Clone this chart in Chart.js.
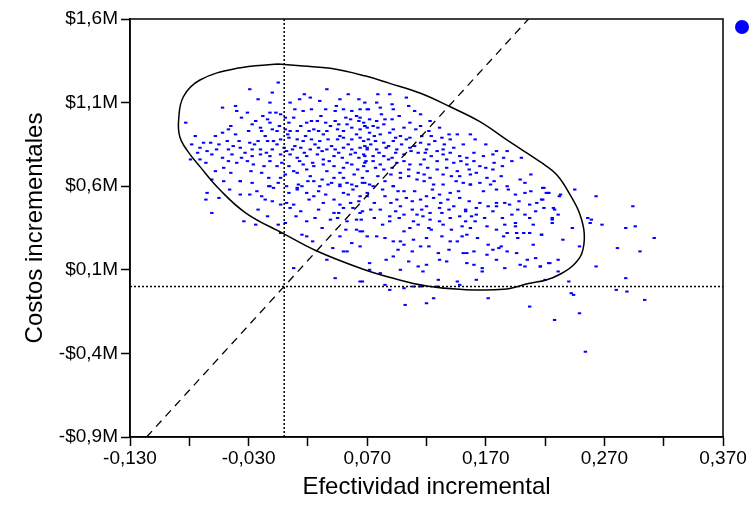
<!DOCTYPE html>
<html>
<head>
<meta charset="utf-8">
<script src="https://cdn.jsdelivr.net/npm/chart.js@4.4.1/dist/chart.umd.min.js"></script>
<style>
  html, body { margin: 0; padding: 0; background: #fff; }
  #wrap { width: 749px; height: 515px; }
</style>
</head>
<body>
<div id="wrap"><canvas id="cePlane" width="749" height="515"></canvas></div>
<script>
// Axis labels (comma decimals, as in the original)
const xTickLabels = ['-0,130', '-0,030', '0,070', '0,170', '0,270', '0,370'];
const yTickLabels = ['-$0,9M', '-$0,4M', '$0,1M', '$0,6M', '$1,1M', '$1,6M'];

// Simulated pairs: [incremental effect, incremental cost in $M]
const simPoints = [
  // upper left
  [-0.005,1.22],[-0.029,1.18],[-0.010,1.16],[0.017,1.15],[0.036,1.18],[-0.041,1.08],[-0.012,1.10],[0.005,1.10],[0.013,1.12],[0.030,1.11],[0.044,1.08],[0.054,1.15],[0.063,1.12],
  [-0.040,1.05],[-0.031,1.04],[-0.012,1.04],[-0.007,1.04],[-0.003,1.03],[0.009,1.06],[0.016,1.05],[0.023,1.06],[0.035,1.06],[0.043,1.05],[0.050,1.06],[0.057,1.05],[0.064,1.06],[0.070,1.06],
  [-0.083,0.98],[-0.024,0.99],[-0.014,1.00],[-0.012,0.98],[0.001,1.01],[0.004,0.98],[0.019,0.98],[0.023,0.99],[0.028,0.99],[0.035,0.98],[0.043,0.99],[0.046,0.97],[0.056,1.00],[0.063,0.99],[0.067,0.98],
  [-0.052,0.92],[-0.047,0.94],[-0.030,0.93],[-0.020,0.95],[-0.019,0.93],[-0.010,0.94],[-0.006,0.93],[0.001,0.94],[0.005,0.93],[0.011,0.93],[0.021,0.93],[0.025,0.94],[0.029,0.93],[0.036,0.93],[0.045,0.94],[0.050,0.93],[0.057,0.95],[0.064,0.94],[0.070,0.95],
  [-0.068,0.86],[-0.062,0.86],[-0.071,0.83],[-0.055,0.85],[-0.048,0.87],[-0.038,0.87],[-0.029,0.86],[-0.022,0.87],[-0.014,0.87],[-0.009,0.87],[-0.003,0.88],[0.004,0.89],[0.011,0.88],[0.016,0.87],[0.023,0.88],[0.030,0.87],[0.037,0.88],[0.045,0.88],[0.050,0.89],[0.057,0.88],[0.064,0.89],[0.071,0.88],
  [-0.065,0.81],[-0.057,0.82],[-0.047,0.82],[-0.037,0.83],[-0.027,0.82],[-0.020,0.82],[-0.010,0.82],[0.000,0.83],[0.007,0.82],[0.014,0.83],[0.022,0.82],[0.029,0.83],[0.036,0.82],[0.043,0.82],[0.050,0.83],[0.057,0.82],[0.064,0.83],[0.070,0.82],
  [-0.079,0.76],[-0.071,0.76],[-0.052,0.77],[-0.044,0.79],[-0.036,0.77],[-0.027,0.78],[-0.020,0.79],[-0.012,0.78],[-0.003,0.79],[0.005,0.79],[0.011,0.77],[0.019,0.78],[0.028,0.79],[0.033,0.76],[0.042,0.78],[0.049,0.77],[0.056,0.79],[0.063,0.77],[0.068,0.78],
  [-0.051,0.71],[-0.040,0.74],[-0.026,0.73],[-0.017,0.72],[-0.012,0.75],[-0.006,0.72],[0.004,0.72],[0.016,0.73],[0.025,0.72],[0.033,0.73],[0.042,0.72],[0.050,0.71],[0.057,0.73],[0.067,0.72],
  [-0.061,0.64],[-0.037,0.63],[-0.013,0.65],[-0.003,0.65],[0.001,0.67],[0.011,0.68],[0.022,0.66],[0.032,0.64],[0.042,0.65],[0.050,0.65],[0.059,0.67],[0.066,0.65],
  [-0.012,0.60],[0.002,0.60],[0.011,0.59],[0.030,0.60],[0.047,0.60],[0.061,0.60],
  [-0.036,1.01],[-0.018,1.02],[0.008,1.01],[0.031,1.02],[0.052,1.01],[0.061,1.02],
  [-0.045,0.96],[-0.027,0.97],[-0.004,0.96],[0.014,0.96],[0.039,0.96],[0.053,0.97],[0.068,0.96],
  [-0.075,0.90],[-0.058,0.90],[-0.041,0.91],[-0.016,0.90],[0.003,0.91],[0.018,0.90],[0.033,0.91],[0.047,0.90],[0.061,0.91],
  [-0.078,0.85],[-0.043,0.84],[-0.025,0.85],[-0.006,0.85],[0.009,0.84],[0.026,0.85],[0.040,0.84],[0.054,0.85],[0.068,0.84],
  [-0.073,0.80],[-0.061,0.79],[-0.033,0.80],[-0.015,0.80],[0.002,0.81],[0.017,0.80],[0.032,0.81],[0.046,0.80],[0.060,0.80],
  [-0.066,0.74],[-0.047,0.75],[-0.031,0.75],[-0.002,0.74],[0.013,0.75],[0.024,0.74],[0.038,0.75],[0.053,0.74],[0.069,0.75],
  [-0.058,0.69],[-0.045,0.68],[-0.028,0.69],[-0.019,0.68],[0.008,0.69],[0.019,0.70],[0.036,0.69],[0.047,0.68],[0.062,0.70],
  [-0.027,0.62],[-0.005,0.62],[0.020,0.63],[0.037,0.61],[0.053,0.62],
  [-0.022,1.12],[0.022,1.13],[0.047,1.12],[-0.052,1.07],
  // upper right
  [0.079,1.15],[0.089,1.15],[0.068,1.10],[0.078,1.10],[0.091,1.09],[0.103,1.13],[0.071,1.06],[0.081,1.07],[0.092,1.06],[0.105,1.08],[0.115,1.03],
  [0.064,1.01],[0.072,1.00],[0.078,0.99],[0.085,1.00],[0.091,1.00],[0.106,0.98],[0.123,0.99],[0.068,0.96],[0.075,0.96],[0.084,0.97],[0.092,0.94],[0.115,0.96],[0.122,0.93],
  [0.072,0.92],[0.081,0.91],[0.089,0.92],[0.098,0.90],[0.106,0.89],[0.116,0.90],[0.133,0.89],[0.146,0.91],[0.157,0.91],
  [0.067,0.87],[0.077,0.87],[0.084,0.86],[0.092,0.87],[0.103,0.88],[0.115,0.86],[0.127,0.87],[0.140,0.88],[0.161,0.88],
  [0.070,0.83],[0.078,0.82],[0.086,0.83],[0.095,0.82],[0.106,0.83],[0.120,0.82],[0.134,0.82],[0.143,0.83],[0.179,0.81],[0.188,0.81],
  [0.067,0.79],[0.075,0.78],[0.084,0.78],[0.091,0.77],[0.101,0.79],[0.113,0.80],[0.124,0.78],[0.134,0.79],[0.148,0.78],[0.154,0.77],[0.168,0.78],[0.185,0.77],[0.200,0.77],
  [0.068,0.74],[0.081,0.73],[0.095,0.74],[0.106,0.73],[0.115,0.73],[0.129,0.75],[0.143,0.74],[0.154,0.73],[0.165,0.72],
  [0.070,0.69],[0.084,0.70],[0.098,0.68],[0.113,0.68],[0.129,0.70],[0.146,0.69],[0.162,0.68],[0.176,0.70],
  [0.098,0.65],[0.112,0.64],[0.123,0.65],[0.134,0.67],[0.148,0.66],[0.171,0.65],[0.199,0.64],
  [0.072,0.61],[0.092,0.60],[0.126,0.61],[0.134,0.61],[0.157,0.61],[0.188,0.60],
  [0.082,1.03],[0.097,1.02],[0.110,1.05],[0.079,0.95],[0.101,0.95],[0.111,0.94],[0.131,0.95],
  [0.076,0.90],[0.094,0.89],[0.124,0.90],[0.139,0.91],
  [0.073,0.85],[0.088,0.84],[0.099,0.85],[0.110,0.84],[0.122,0.85],[0.135,0.85],[0.151,0.85],[0.170,0.85],
  [0.080,0.80],[0.094,0.80],[0.107,0.81],[0.119,0.80],[0.129,0.81],[0.140,0.80],[0.160,0.80],[0.176,0.79],
  [0.075,0.75],[0.088,0.76],[0.101,0.75],[0.118,0.76],[0.137,0.76],[0.149,0.75],[0.160,0.75],[0.177,0.74],[0.192,0.75],
  [0.077,0.71],[0.091,0.71],[0.105,0.70],[0.121,0.71],[0.137,0.71],[0.156,0.70],[0.170,0.71],[0.184,0.72],
  [0.079,0.66],[0.090,0.67],[0.105,0.66],[0.118,0.67],[0.141,0.66],[0.157,0.67],[0.183,0.66],[0.208,0.67],
  [0.085,0.63],[0.118,0.63],[0.145,0.63],[0.165,0.62],[0.177,0.63],[0.203,0.62],
  // lower left
  [-0.051,0.63],[-0.037,0.63],[-0.013,0.60],[-0.009,0.59],[0.012,0.61],[0.015,0.60],[0.025,0.63],[0.040,0.62],[0.047,0.61],[0.057,0.61],[0.066,0.62],
  [0.011,0.58],[0.019,0.56],[0.025,0.54],[0.035,0.55],[0.042,0.52],[0.050,0.56],[0.054,0.55],[0.064,0.54],[0.070,0.56],
  [-0.065,0.56],[-0.037,0.55],[-0.029,0.55],[-0.019,0.54],[-0.055,0.53],[-0.066,0.52],[-0.016,0.52],[-0.003,0.49],[0.002,0.50],[0.008,0.49],[0.056,0.50],[0.047,0.49],
  [-0.061,0.44],[0.014,0.45],[0.042,0.44],[0.046,0.44],[0.050,0.47],[0.066,0.45],
  [-0.034,0.39],[-0.024,0.37],[-0.005,0.37],[0.001,0.38],[0.019,0.39],[0.026,0.41],[0.039,0.40],[0.053,0.39],[0.061,0.40],
  [-0.003,0.32],[0.015,0.31],[0.019,0.30],[0.047,0.30],[0.061,0.34],[0.066,0.33],
  [0.050,0.21],[0.053,0.21],[0.036,0.16],[0.008,0.11],[0.043,0.05],[0.066,0.03],
  [-0.046,0.58],[-0.023,0.57],[0.004,0.56],[0.029,0.57],[0.058,0.58],[-0.010,0.51],[0.021,0.52],[0.033,0.50],[0.063,0.51],
  [-0.022,0.46],[0.005,0.47],[0.029,0.46],[0.058,0.47],[-0.014,0.42],[0.010,0.42],[0.045,0.41],[0.032,0.35],[0.052,0.34],
  [0.024,0.27],[0.057,0.26],[0.041,0.23],
  // lower right
  [0.068,0.62],[0.075,0.60],[0.092,0.60],[0.101,0.57],[0.110,0.57],[0.120,0.54],[0.131,0.55],[0.140,0.56],[0.151,0.62],[0.157,0.61],[0.174,0.61],[0.179,0.58],[0.195,0.55],[0.203,0.56],[0.219,0.59],[0.223,0.56],[0.233,0.55],
  [0.070,0.54],[0.085,0.54],[0.095,0.52],[0.103,0.53],[0.115,0.52],[0.126,0.53],[0.138,0.52],[0.148,0.53],[0.165,0.50],[0.179,0.50],[0.198,0.51],[0.217,0.52],
  [0.098,0.48],[0.108,0.46],[0.120,0.48],[0.131,0.47],[0.143,0.48],[0.153,0.46],[0.162,0.47],[0.172,0.48],[0.179,0.48],[0.186,0.50],[0.207,0.49],[0.227,0.47],
  [0.064,0.44],[0.081,0.46],[0.089,0.42],[0.101,0.43],[0.112,0.43],[0.123,0.44],[0.133,0.44],[0.148,0.42],[0.153,0.45],[0.162,0.43],[0.169,0.41],[0.192,0.43],[0.203,0.43],[0.212,0.45],[0.226,0.40],
  [0.065,0.40],[0.089,0.39],[0.109,0.39],[0.123,0.40],[0.131,0.39],[0.153,0.39],[0.161,0.39],[0.171,0.36],[0.179,0.34],[0.195,0.38],[0.195,0.36],
  [0.064,0.33],[0.101,0.33],[0.106,0.35],[0.122,0.35],[0.124,0.34],[0.141,0.34],[0.157,0.35],[0.188,0.32],[0.196,0.32],[0.202,0.32],[0.207,0.32],[0.217,0.31],
  [0.070,0.30],[0.078,0.30],[0.109,0.28],[0.140,0.27],[0.150,0.30],[0.154,0.31],[0.185,0.30],
  [0.092,0.27],[0.098,0.27],[0.101,0.25],[0.115,0.24],[0.122,0.24],[0.146,0.27],[0.172,0.25],[0.181,0.23],[0.183,0.24],[0.188,0.21],[0.064,0.24],[0.210,0.25],
  [0.130,0.20],[0.151,0.20],[0.154,0.20],[0.171,0.19],[0.176,0.22],
  [0.072,0.14],[0.086,0.16],[0.092,0.18],[0.105,0.15],[0.113,0.12],[0.120,0.13],[0.131,0.16],[0.137,0.15],[0.154,0.14],[0.160,0.13],[0.167,0.11],[0.179,0.16],[0.186,0.11],[0.199,0.13],[0.205,0.16],[0.203,0.12],[0.212,0.17],[0.216,0.12],[0.224,0.14],[0.231,0.16],
  [0.072,0.10],[0.098,0.10],[0.117,0.09],[0.081,0.08],[0.130,0.04],[0.146,0.03],[0.148,0.01],[0.162,0.04],[0.167,0.09],
  [0.064,0.03],[0.085,0.01],[0.089,-0.02],[0.101,-0.01],[0.109,0.00],[0.115,0.00],[0.129,0.00],[0.172,-0.07],[0.207,-0.12],[0.126,-0.07],[0.120,-0.10],[0.102,-0.11],
  [0.083,0.58],[0.096,0.57],[0.125,0.58],[0.147,0.57],[0.168,0.57],[0.189,0.58],[0.208,0.57],
  [0.076,0.50],[0.090,0.50],[0.108,0.51],[0.132,0.50],[0.156,0.51],[0.190,0.49],[0.213,0.50],
  [0.073,0.46],[0.094,0.45],[0.116,0.46],[0.139,0.46],[0.176,0.45],[0.197,0.46],
  [0.076,0.41],[0.097,0.41],[0.117,0.42],[0.140,0.41],[0.158,0.42],[0.184,0.41],[0.207,0.41],
  [0.083,0.37],[0.113,0.37],[0.134,0.37],[0.150,0.36],[0.186,0.37],[0.210,0.37],
  [0.085,0.29],[0.120,0.29],[0.133,0.30],[0.163,0.29],[0.197,0.29],
  [0.096,0.22],[0.108,0.21],[0.139,0.22],[0.160,0.21],[0.196,0.20],
  // right tail
  [0.218,0.59],[0.221,0.56],[0.223,0.56],[0.232,0.54],[0.245,0.58],[0.263,0.54],[0.218,0.52],[0.219,0.47],[0.228,0.46],[0.231,0.43],[0.226,0.41],[0.226,0.38],[0.256,0.41],[0.259,0.40],[0.258,0.38],[0.268,0.37],
  [0.243,0.35],[0.288,0.35],[0.296,0.36],[0.294,0.48],[0.217,0.31],[0.235,0.28],[0.249,0.24],[0.281,0.23],[0.312,0.29],[0.300,0.21],[0.216,0.12],[0.263,0.12],[0.223,0.14],[0.231,0.09],
  [0.220,0.04],[0.240,0.03],[0.288,0.05],[0.280,-0.02],[0.289,-0.03],[0.304,-0.08],[0.242,-0.04],[0.244,-0.05],[0.249,-0.16],[0.228,-0.20],[0.254,-0.39]
];

// Confidence ellipse
const ellipsePoints = [
  [-0.005,1.331],[0.016,1.319],[0.039,1.305],[0.068,1.260],[0.089,1.215],[0.115,1.156],[0.140,1.075],[0.165,0.986],
  [0.190,0.866],[0.216,0.745],[0.230,0.667],[0.242,0.537],[0.249,0.438],[0.253,0.318],[0.251,0.199],[0.244,0.129],
  [0.233,0.075],[0.221,0.039],[0.207,0.019],[0.185,-0.017],[0.148,-0.017],[0.120,0.003],[0.092,0.049],[0.066,0.105],
  [0.027,0.214],[-0.001,0.318],[-0.032,0.438],[-0.054,0.577],[-0.071,0.717],[-0.082,0.816],[-0.088,0.896],[-0.089,0.996],
  [-0.085,1.135],[-0.071,1.235],[-0.040,1.305],[-0.005,1.331]
];

// Willingness-to-pay line and zero reference lines
const wtpLine = [[-0.116,-0.9],[0.206,1.6]];
const zeroEffect = [[0,-0.9],[0,1.6]];
const zeroCost = [[-0.13,0],[0.37,0]];

const FONT = "'Liberation Sans', Arial, sans-serif";

// box around the plot + legend marker (its text is cut off in the original)
const framePlugin = {
    id: 'frame',
    afterDatasetsDraw(chart) {
        const { ctx, chartArea: a } = chart;
        ctx.save();
        ctx.strokeStyle = '#000';
        ctx.lineWidth = 1.5;
        ctx.strokeRect(a.left, a.top, a.right - a.left, a.bottom - a.top);
        ctx.fillStyle = '#0000ff';
        ctx.beginPath();
        ctx.arc(a.right + 19, a.top + 8, 7, 0, Math.PI * 2);
        ctx.fill();
        ctx.restore();
    }
};

new Chart(document.getElementById('cePlane'), {
    type: 'scatter',
    data: {
        datasets: [
            {
                label: 'Simulaciones',
                data: simPoints,
                pointStyle: 'line',
                pointRadius: 1.7,
                pointBorderWidth: 2,
                pointBorderColor: '#0000ff',
                borderColor: '#0000ff',
                order: 4
            },
            {
                data: ellipsePoints,
                showLine: true,
                pointRadius: 0,
                borderColor: '#000',
                borderWidth: 1.5,
                tension: 0.4,
                order: 1
            },
            {
                data: wtpLine,
                showLine: true,
                pointRadius: 0,
                borderColor: '#000',
                borderWidth: 1.3,
                borderDash: [8, 6],
                order: 2
            },
            {
                data: zeroEffect,
                showLine: true,
                pointRadius: 0,
                borderColor: '#000',
                borderWidth: 1.5,
                borderDash: [2, 2],
                order: 3
            },
            {
                data: zeroCost,
                showLine: true,
                pointRadius: 0,
                borderColor: '#000',
                borderWidth: 1.5,
                borderDash: [2, 2],
                order: 3
            }
        ]
    },
    options: {
        responsive: false,
        animation: false,
        layout: { padding: { top: 19, right: 26, left: 0, bottom: 0 } },
        plugins: {
            legend: { display: false },
            tooltip: { enabled: false }
        },
        scales: {
            x: {
                type: 'linear',
                min: -0.13,
                max: 0.37,
                border: { display: true, color: '#000', width: 1.5 },
                grid: { drawOnChartArea: false, tickLength: 9, tickWidth: 1.5, tickColor: '#000' },
                ticks: {
                    stepSize: 0.05,
                    color: '#000',
                    padding: 1,
                    maxRotation: 0,
                    autoSkip: false,
                    font: { family: FONT, size: 19 },
                    callback: (v, i) => (i % 2 === 0 ? xTickLabels[i / 2] : '')
                },
                title: {
                    display: true,
                    text: 'Efectividad incremental',
                    color: '#000',
                    font: { family: FONT, size: 24 },
                    padding: { top: 0, bottom: 13 }
                },
                afterFit: (scale) => { scale.height = 78; }
            },
            y: {
                type: 'linear',
                min: -0.9,
                max: 1.6,
                border: { display: true, color: '#000', width: 1.5 },
                grid: { drawOnChartArea: false, tickLength: 9, tickWidth: 1.5, tickColor: '#000' },
                ticks: {
                    stepSize: 0.5,
                    color: '#000',
                    padding: 3,
                    autoSkip: false,
                    font: { family: FONT, size: 19 },
                    callback: (v, i) => yTickLabels[i]
                },
                title: {
                    display: true,
                    text: 'Costos incrementales',
                    color: '#000',
                    font: { family: FONT, size: 24 },
                    padding: { top: 21, bottom: 0 }
                },
                afterFit: (scale) => { scale.width = 130; }
            }
        }
    },
    plugins: [framePlugin]
});
</script>
</body>
</html>
